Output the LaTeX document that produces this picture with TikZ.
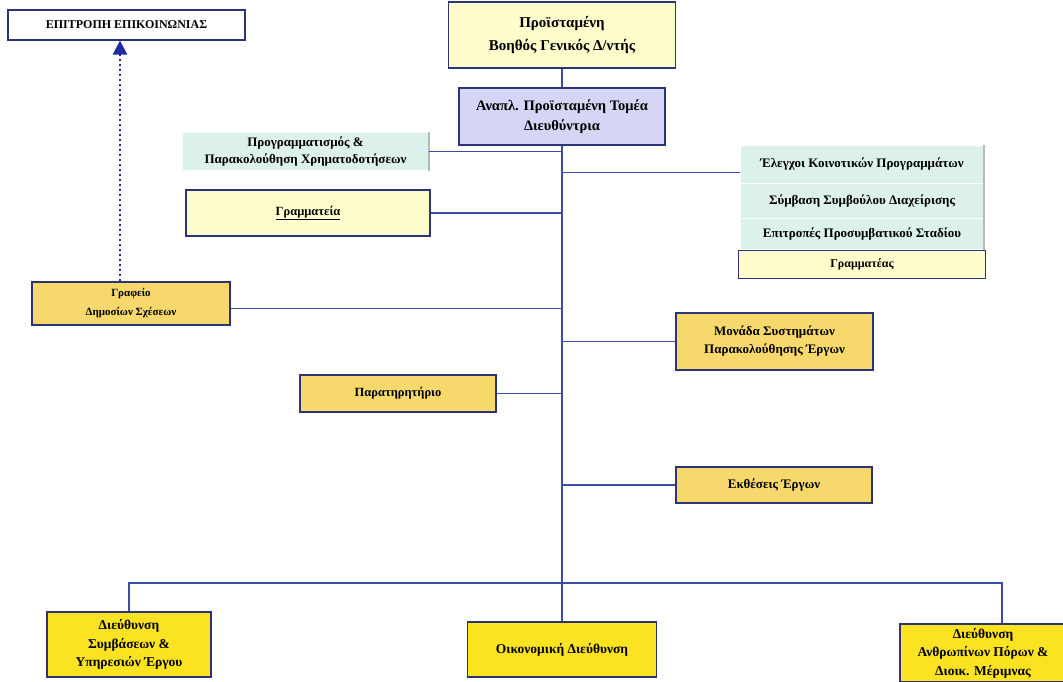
\documentclass[tikz,border=0pt]{standalone}
\usepackage{fontspec}
\setmainfont{Liberation Serif}
\usetikzlibrary{positioning,arrows.meta}

\definecolor{linkblue}{HTML}{3B4DA8}
\definecolor{edgeblue}{HTML}{2B3475}
\definecolor{tipblue}{HTML}{1F2C9E}
\definecolor{paleyellow}{HTML}{FEFDCB}
\definecolor{lavender}{HTML}{D5D5F5}
\definecolor{goldfill}{HTML}{F6D86C}
\definecolor{brightyellow}{HTML}{FCE321}
\definecolor{mint}{HTML}{DDF1EC}

\newcommand{\boxfont}[2]{\bfseries\fontsize{#1}{#2}\selectfont}

\tikzset{
  unit/.style={rectangle, draw=edgeblue, line width=1.2pt, inner sep=2pt, align=center,
    font=\boxfont{12}{18}},
  pale/.style={unit, fill=paleyellow},
  goldbox/.style={unit, fill=goldfill},
  directorate/.style={unit, fill=brightyellow, font=\boxfont{13.5}{18.5}},
  mintbox/.style={unit, draw=none, fill=mint, font=\boxfont{13}{17}},
  link/.style={draw=linkblue, line width=1.1pt},
}

\begin{document}
\begin{tikzpicture}[x=1pt,y=-1pt]
  \useasboundingbox (0,0) rectangle (1063,682);

  % top of the chart
  \node[unit, fill=white, minimum width=237pt, minimum height=30pt,
    font=\boxfont{12}{14}] (committee) at (126.5,25) {ΕΠΙΤΡΟΠΗ ΕΠΙΚΟΙΝΩΝΙΑΣ};
  \node[pale, minimum width=227pt, minimum height=66pt,
    font=\boxfont{15}{23}] (head) at (562,35) {Προϊσταμένη\\Βοηθός Γενικός Δ/ντής};
  \node[unit, fill=lavender, minimum width=206pt, minimum height=57pt,
    font=\boxfont{14.5}{20}] (deputy) at (562,116.5) {Αναπλ. Προϊσταμένη Τομέα\\Διευθύντρια};

  % staff units, left
  \node[mintbox, minimum width=245pt, minimum height=37pt] (planning) at (305.5,151.5)
    {Προγραμματισμός \&\\Παρακολούθηση Χρηματοδοτήσεων};
  \node[pale, minimum width=244pt, minimum height=46pt, font=\boxfont{12.5}{17}] (secretariat) at (308,213)
    {\underline{Γραμματεία}};
  \node[goldbox, minimum width=198pt, minimum height=43pt, font=\boxfont{11}{19}] (press) at (131,303.5)
    {Γραφείο\\Δημοσίων Σχέσεων};
  \node[goldbox, minimum width=196pt, minimum height=37pt, font=\boxfont{12.5}{17}] (observatory) at (398,393.5)
    {Παρατηρητήριο};

  % staff units, right
  \node[mintbox, minimum width=242pt, minimum height=37pt] (audits) at (862,164.5) {Έλεγχοι Κοινοτικών Προγραμμάτων};
  \node[mintbox, minimum width=242pt, minimum height=34pt, below=0pt of audits] (contract) {Σύμβαση Συμβούλου Διαχείρισης};
  \node[mintbox, minimum width=242pt, minimum height=30pt, below=0pt of contract] (precontract) {Επιτροπές Προσυμβατικού Σταδίου};
  \node[pale, minimum width=247pt, minimum height=28pt, below=0pt of precontract] (clerk) {Γραμματέας};
  \node[goldbox, minimum width=197pt, minimum height=57pt, font=\boxfont{13}{18}] (monitoring) at (774.5,341.5)
    {Μονάδα Συστημάτων\\Παρακολούθησης Έργων};
  \node[goldbox, minimum width=196pt, minimum height=36pt, font=\boxfont{13}{17}] (reports) at (774,485)
    {Εκθέσεις Έργων};

  % directorates
  \node[directorate, minimum width=164pt, minimum height=65pt] (contracts) at (129,644.5)
    {Διεύθυνση\\Συμβάσεων \&\\Υπηρεσιών Έργου};
  \node[directorate, minimum width=189pt, minimum height=55pt] (finance) at (562,649.5) {Οικονομική Διεύθυνση};
  \node[directorate, minimum width=166pt, minimum height=58pt] (personnel) at (983,653)
    {Διεύθυνση\\Ανθρωπίνων Πόρων \&\\Διοικ. Μέριμνας};
  \coordinate (bus) at (562,583);

  % shadow edges of the mint boxes
  \foreach \n in {planning,audits,contract,precontract}
    \draw[gray!55, line width=2pt] (\n.north east) -- (\n.south east);

  % connectors
  \draw[link] (head) -- (deputy);
  \draw[link] (deputy) -- (finance);
  \draw[link] (planning.east) -- (planning.east -| deputy.south);
  \draw[link] (secretariat.east) -- (secretariat.east -| deputy.south);
  \draw[link] ([yshift=-8pt]audits.west) -- ([yshift=-8pt]audits.west -| deputy.south);
  \draw[link] ([yshift=-5pt]press.east) -- ([yshift=-5pt]press.east -| deputy.south);
  \draw[link] (monitoring.west) -- (monitoring.west -| deputy.south);
  \draw[link] (observatory.east) -- (observatory.east -| deputy.south);
  \draw[link] (reports.west) -- (reports.west -| deputy.south);
  \draw[link] (contracts.north) |- (bus) -| ([xshift=19pt]personnel.north);
  \draw[tipblue, line width=2.5pt, dash pattern=on 2.5pt off 2.5pt,
    -{Triangle[width=14pt,length=14pt]}]
    ([xshift=-11pt]press.north) -- ([xshift=-11pt]press.north |- committee.south);
\end{tikzpicture}
\end{document}
